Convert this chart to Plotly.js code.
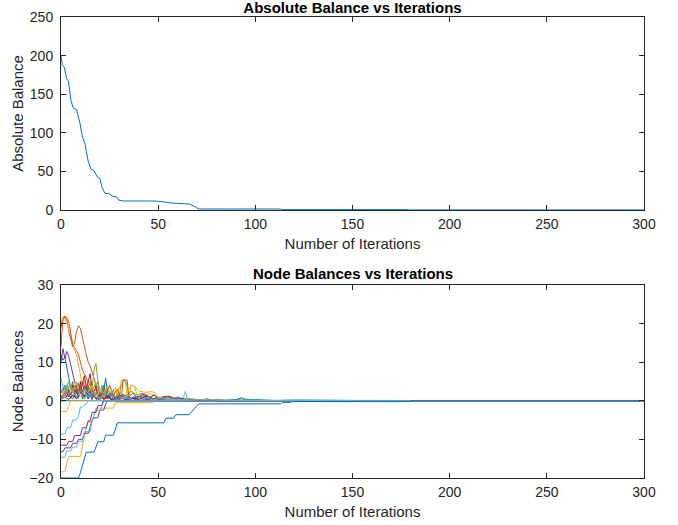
<!DOCTYPE html>
<html>
<head>
<meta charset="utf-8">
<script src="https://cdn.plot.ly/plotly-3.0.1.min.js"></script>
<style>html,body{margin:0;padding:0;background:#fff}#chart{width:678px;height:525px}</style>
</head>
<body>
<div id="chart"></div>
<script>
// ---------- Data: absolute balance ----------
const absX = [0,0.7,1.7,2.9,3.8,5.1,6.3,8,9.8,11,12.3,14,15.4,17,18.9,20,21,22.6,25,26.4,28.6,29.5,32,48,53.5,55,59.5,66,69,70.7,113,114,178,179,300];
const absY = [200,188,185,170,167,142,132,130,112,95,86,63,53,51,42,41,30,21.6,21,18,17,13,11.7,11.7,10.4,9.5,8.6,7.8,4.3,1.3,1.3,0.5,0.5,0.1,0.1];

// ---------- Data: node balances (negative starters) ----------
const negBlueX = [0,9,10,11,12,13,17,18,19,22,23,27,28,29,53,54,58,59,66,67,68,69,70,71,113,114,118,119,179,180,300];
const negBlueY = [-20,-20,-18.6,-16.8,-15,-13.3,-13.3,-12,-10.6,-10.6,-8.9,-8.9,-7.2,-5.7,-5.7,-4.5,-4.5,-3.6,-3.6,-3,-2.1,-1.6,-1.2,-0.8,-0.8,-0.4,-0.4,-0.2,-0.2,0,0];
const negYellowX = [0,2,3,4,10,11,12,13,14,16,17,18,27,28,47,48,300];
const negYellowY = [-18.4,-18.4,-16,-14.4,-14.4,-12,-9,-7,-5.5,-5.5,-3.5,-1.9,-1.9,-0.5,-0.5,0,0];
const negYellow2X = [0,3,4,5,300];
const negYellow2Y = [-2.8,-2.8,-1.2,0,0];
const negLightBlue1X = [0,2,3,5,6,8,9,11,12,15,16,17,18,20,21,22,300];
const negLightBlue1Y = [-14.6,-14.6,-13,-13,-12,-12,-10.5,-10.5,-8,-8,-5,-3.5,-2.5,-2.5,-1,0,0];
const negLightBlue2X = [0,2,3,5,6,8,9,10,11,13,14,300];
const negLightBlue2Y = [-8.6,-8.6,-7,-7,-5,-5,-4,-1.6,-1.6,-0.8,0,0];
const negPurple1X = [0,1,2,5,6,8,9,11,12,14,15,16,17,19,20,22,23,24,300];
const negPurple1Y = [-13.2,-13.2,-12.2,-12.2,-11,-11,-10,-10,-8.4,-8.4,-6.8,-5,-4.4,-4.4,-2.4,-2.4,-0.8,0,0];
const negPurple2X = [0,3,4,6,7,10,11,13,14,15,16,18,19,21,22,300];
const negPurple2Y = [-11.5,-11.5,-10.5,-10.5,-9,-9,-7,-7,-5.2,-5.2,-3,-3,-1.2,-1.2,0,0];

// ---------- Data: node balances (positive starters) ----------
const posOrange1X = [0,1,2,3,4,5,6,7,8,9,10,11,12,13,14,15,16,17,18,19,20,21,22,23,24,26,28,29,300];
const posOrange1Y = [14,21.5,22,21,18,16,14,15,18,19.5,18.7,16.5,14,12,10,9,7.5,6,4,5,2,1.5,3,0.5,1.5,0,0.5,0,0];
const posOrange2X = [0,1,2,3,4,5,6,7,8,9,10,11,12,13,14,15,16,17,18,19,20,21,300];
const posOrange2Y = [19,21,21.8,21.5,20.5,17,14.5,13.8,13,12,10,8,7,6,4.5,5,3.5,2,1,0.5,0.2,0,0];
const posYellow1X = [0,1,2,3,4,5,6,7,8,9,10,11,12,13,14,15,16,17,18,19,20,22,24,26,28,29,30,31,32,33,34,35,36,37,38,39,40,41,42,45,48,50,51,300];
const posYellow1Y = [20,21.8,21.3,20,18.5,17,15,13,12,9,6,4,5,3,2,4,1.5,3,1,0.5,2,0.5,3.5,1.5,3.5,1,0.3,5.4,5.4,5.4,1,0.5,4,4,3.5,1.5,1,2,0.5,2,1.5,0.5,0,0];
const posPurple1X = [0,1,2,3,4,5,6,7,8,9,10,11,12,13,14,15,16,17,18,19,20,21,22,24,26,28,30,32,35,38,40,42,44,46,48,50,300];
const posPurple1Y = [10,13.5,11,12.8,11.5,9,7,5,3.5,4.5,2,3,1,2.5,0.5,1.5,0.3,2,0.5,1,0.2,1.5,0.5,1,0.2,0.8,0.3,1,0.2,1,0.3,1.8,0.5,0.8,0.2,0,0];
const posBlue1X = [0,1,2,3,4,5,6,7,8,9,10,11,12,13,14,15,16,17,18,19,20,21,22,23,24,25,26,27,28,30,300];
const posBlue1Y = [12,10.5,11.2,8,6,3,5,2,4,1,3,0.5,4,1.5,0.5,3,1,2,0.5,0,2,0.5,3,5.8,2,0.5,1.5,0,0.5,0,0];
const posGreen1X = [0,2,4,5,6,7,8,9,10,11,12,13,14,15,16,17,18,19,20,21,22,23,24,25,26,27,28,29,30,31,32,33,34,35,36,300];
const posGreen1Y = [0.5,3,5,3,4.5,2,5,3,4,1,3,2,4,1,3,8,9.7,5,2,4,1,3,0.5,2,1,3,0.5,2,1,4,5.2,5.2,4,1,0,0];
const posLightBlue1X = [0,1,2,3,4,5,6,7,8,9,10,11,12,14,16,18,20,22,24,26,30,34,38,42,46,50,54,58,60,62,63,64,65,66,68,70,300];
const posLightBlue1Y = [6,3,1,4,2,0.5,3,1,2,0.5,2.5,1,0.5,2,1,3,0.5,2,1,0.3,1,0.5,1.2,0.3,0.8,0.2,0.5,0.3,0.8,0.2,1,2.4,0.5,0.3,0.1,0,0];
const posDarkRed1X = [0,1,2,3,4,5,6,7,8,9,10,11,12,13,14,15,16,17,18,19,20,22,24,26,28,30,32,34,36,40,44,48,52,56,60,300];
const posDarkRed1Y = [0.3,1,2,1,3,1.5,4,2,3,1,5,2,4,3,5,7,3,2,4,1,2,0.5,1.5,0.3,1,0.5,1.8,0.3,0.8,0.5,1.2,0.4,0.8,0.3,0,0];
const posBlue2X = [0,2,4,6,8,10,12,14,16,18,20,22,24,26,28,30,33,36,40,45,50,55,60,65,70,75,80,300];
const posBlue2Y = [2,4,1,3,0.5,2.5,1,3.5,0.5,2,1,4,0.5,2,1,0.3,1.5,0.5,1.2,0.3,0.8,1,0.5,0.3,0.2,0.1,0,0];
const posOrange3X = [0,3,5,7,9,11,13,15,17,19,21,23,25,27,29,31,32,34,35,37,40,44,48,52,56,60,65,70,75,80,300];
const posOrange3Y = [1,3,1.5,4,2,5,3,4.5,1,3,0.5,2,4,1.5,3,0.5,5.4,5.4,1,2,0.5,1.5,0.3,1,1.2,0.4,0.6,0.3,0.2,0,0];
const posYellow2X = [0,2,4,6,8,10,12,14,16,18,20,22,24,26,28,30,32,34,36,38,40,42,44,46,48,50,55,60,70,80,90,100,300];
const posYellow2Y = [3,1,4,2,5,1,3,2,4,0.5,3,1,4,2.5,1,3.5,0.5,2,4,3.8,2.5,2.3,2.2,2.4,2.2,1,0.5,0.8,0.3,0.2,0.1,0,0];
const posPurple2X = [0,3,6,9,12,15,18,21,24,27,30,35,40,43,45,48,50,55,58,60,65,70,80,300];
const posPurple2Y = [1,2,0.5,3,1,2.5,0.5,2,1,0.3,1.5,0.5,1,1.8,0.4,1.5,0.3,1.2,0.4,0.8,0.3,0.2,0,0];
const posGreen2X = [0,3,6,9,12,15,18,21,24,27,30,33,36,39,42,45,48,51,54,57,60,63,66,70,75,80,90,95,100,300];
const posGreen2Y = [2,4,1,3,0.5,2,4.5,1,3,0.5,2,1,2.5,1.5,2,0.8,1.5,0.5,1.2,0.4,1,0.3,0.6,0.2,0.4,0.1,0.3,0.5,0,0];
const posLightBlue2X = [0,2,5,8,11,14,17,20,23,26,29,32,35,38,41,44,47,50,60,70,80,90,100,120,150,180,300];
const posLightBlue2Y = [0.5,2,4,1,3,1,2.5,0.5,1.5,2.5,0.3,1,0.5,1.2,0.3,0.8,0.2,0.5,0.3,0.2,0.2,0.1,0.1,0.05,0.05,0,0];
const posDarkRed2X = [0,2,4,6,8,10,12,14,16,18,20,22,24,26,28,30,33,36,39,42,46,50,55,60,300];
const posDarkRed2Y = [0.5,1,0.3,1.5,0.5,2,6.5,1,2,0.5,1.5,0.3,1,2,0.5,1,0.3,0.8,0.2,0.6,0.3,0.5,0.2,0,0];
const posTailX = [0,70,72,75,78,80,85,90,93,95,100,110,120,130,140,150,160,170,178,180,300];
const posTailY = [0,0.3,0.1,0.5,0.2,0.4,0.1,0.3,0.8,0.2,0.3,0.1,0.2,0.1,0.15,0.1,0.1,0.05,0.05,0,0];

const xTicks = [0,50,100,150,200,250,300];
const yTicksTop = [0,50,100,150,200,250];
const yTicksBottom = [-20,-10,0,10,20,30];

// MATLAB default colour order
const C = {blue:'#0072BD', orange:'#D95319', yellow:'#EDB120', purple:'#7E2F8E', green:'#77AC30', lightblue:'#4DBEEE', darkred:'#A2142F'};

function line(x, y, color, xa, ya) {
  return {x: x, y: y, type: 'scatter', mode: 'lines', xaxis: xa, yaxis: ya,
          line: {color: color, width: 1}, hoverinfo: 'skip', showlegend: false};
}

const nodeSeries = [
  [posBlue1X, posBlue1Y, C.blue],
  [posOrange1X, posOrange1Y, C.orange],
  [posYellow1X, posYellow1Y, C.yellow],
  [posPurple1X, posPurple1Y, C.purple],
  [posGreen1X, posGreen1Y, C.green],
  [posLightBlue1X, posLightBlue1Y, C.lightblue],
  [posDarkRed1X, posDarkRed1Y, C.darkred],
  [posBlue2X, posBlue2Y, C.blue],
  [posOrange2X, posOrange2Y, C.orange],
  [negYellowX, negYellowY, C.yellow],
  [negPurple1X, negPurple1Y, C.purple],
  [posGreen2X, posGreen2Y, C.green],
  [negLightBlue1X, negLightBlue1Y, C.lightblue],
  [posDarkRed2X, posDarkRed2Y, C.darkred],
  [posTailX, posTailY, C.blue],
  [posOrange3X, posOrange3Y, C.orange],
  [negYellow2X, negYellow2Y, C.yellow],
  [negPurple2X, negPurple2Y, C.purple],
  [negLightBlue2X, negLightBlue2Y, C.lightblue],
  [posYellow2X, posYellow2Y, C.yellow],
  [posPurple2X, posPurple2Y, C.purple],
  [posLightBlue2X, posLightBlue2Y, C.lightblue],
  [negBlueX, negBlueY, C.blue]
];

const traces = [line(absX, absY, C.blue, 'x', 'y')];
nodeSeries.forEach(s => traces.push(line(s[0], s[1], s[2], 'x2', 'y2')));

const FONT = 'Liberation Sans, Arial, Helvetica, sans-serif';
const INK = '#262626';
function axisBase(extra) {
  return Object.assign({
    showline: true, linecolor: INK, linewidth: 1, mirror: 'ticks',
    ticks: 'inside', ticklen: 5, tickwidth: 1, tickcolor: INK,
    showgrid: false, zeroline: false, fixedrange: true,
    tickfont: {family: FONT, size: 14, color: INK}
  }, extra);
}

const TFONT = {family: FONT, size: 15, color: INK};
const xDom = [61/678, 644/678];
const layout = {
  width: 678, height: 525,
  margin: {l: 0, r: 0, t: 0, b: 0},
  paper_bgcolor: '#fff', plot_bgcolor: '#fff',
  font: {family: FONT, color: INK},
  showlegend: false,
  title: {text: 'Absolute Balance vs Iterations', x: 352.5/678, xanchor: 'center',
          y: 1 - 7.5/525, yanchor: 'middle', yref: 'container',
          font: {family: FONT, size: 15, weight: 'bold', color: '#000'}},
  xaxis: axisBase({domain: xDom, anchor: 'y', range: [0, 300], tickvals: xTicks, ticklabelstandoff: 1,
          title: {text: 'Number of Iterations', font: TFONT, standoff: 7}}),
  yaxis: axisBase({domain: [1 - 210/525, 1 - 17/525], anchor: 'x', range: [0, 250], tickvals: yTicksTop, ticklabelstandoff: 4,
          title: {text: 'Absolute Balance', font: TFONT, standoff: 2}}),
  xaxis2: axisBase({domain: xDom, anchor: 'y2', range: [0, 300], tickvals: xTicks, ticklabelstandoff: 1,
          title: {text: 'Number of Iterations', font: TFONT, standoff: 7}}),
  yaxis2: axisBase({domain: [1 - 478/525, 1 - 285/525], anchor: 'x2', range: [-20, 30], tickvals: yTicksBottom, ticklabelstandoff: 4,
          title: {text: 'Node Balances', font: TFONT, standoff: 2}}),
  annotations: [{text: '<b>Node Balances vs Iterations</b>', xref: 'paper', yref: 'paper',
                 x: 352.5/678, y: 1 - 273/525, xanchor: 'center', yanchor: 'middle', showarrow: false,
                 font: {family: FONT, size: 15, color: '#000'}}]
};

Plotly.newPlot('chart', traces, layout, {displayModeBar: false, staticPlot: true});
</script>
</body>
</html>
